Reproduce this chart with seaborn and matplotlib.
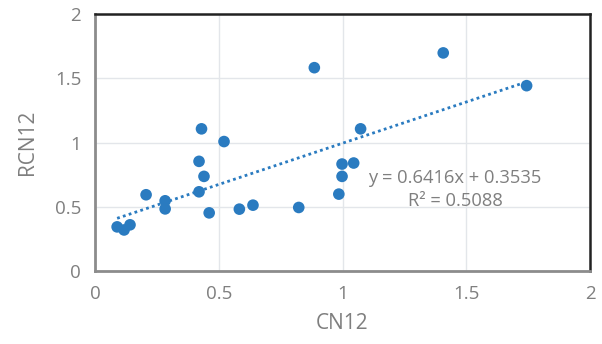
import numpy as np
import pandas as pd
import matplotlib
matplotlib.use("Agg")
import matplotlib.pyplot as plt
import seaborn as sns

# values
cn12 = [0.089, 0.117, 0.141, 0.206, 0.283, 0.283, 0.420, 0.430, 0.440, 0.420,
        0.461, 0.521, 0.583, 0.638, 0.823, 0.886, 0.998, 0.998, 0.985, 1.045,
        1.073, 1.407, 1.744]
rcn12 = [0.344, 0.320, 0.360, 0.594, 0.547, 0.484, 0.854, 1.107, 0.737, 0.617,
         0.453, 1.008, 0.482, 0.513, 0.495, 1.583, 0.833, 0.737, 0.599, 0.841,
         1.107, 1.698, 1.443]
slope, intercept = 0.6416, 0.3535
r2 = 0.5088
ticks = [0, 0.5, 1, 1.5, 2]

df = pd.DataFrame({"CN12": cn12, "RCN12": rcn12})

sns.set_style("white")
plt.rcParams["font.family"] = ["Open Sans", "DejaVu Sans"]

blue = "#2A7BC0"
grey_txt = "#7f7f7f"

fig = plt.figure(figsize=(6.02, 3.44), dpi=100)
ax = fig.add_axes([0.158, 0.212, 0.822, 0.747])

ax.grid(True, color="#e3e6ea", linewidth=1)
ax.set_axisbelow(True)

sns.scatterplot(data=df, x="CN12", y="RCN12", ax=ax, color=blue, s=70,
                edgecolor="none", zorder=3)

# linear trend line (dotted) over data range
xs = np.array([min(cn12), max(cn12)])
ax.plot(xs, slope * xs + intercept, linestyle=(0, (1, 1.2)), color=blue,
        linewidth=2, zorder=2)

ax.text(1.455, 0.727, f"y = {slope}x + {intercept}", ha="center", va="center",
        fontsize=13.2, color=grey_txt)
ax.text(1.455, 0.547, f"R² = {r2}", ha="center", va="center",
        fontsize=13.2, color=grey_txt)

ax.set_xlim(0, 2)
ax.set_ylim(0, 2)
ax.set_xticks(ticks)
ax.set_yticks(ticks)
ax.set_xticklabels([f"{t:g}" for t in ticks])
ax.set_yticklabels([f"{t:g}" for t in ticks])
ax.tick_params(axis="both", labelsize=13.5, colors=grey_txt, length=0, pad=10)
ax.set_xlabel("CN12", fontsize=15, color=grey_txt, labelpad=7)
ax.set_ylabel("RCN12", fontsize=15, color=grey_txt, labelpad=12)

for side in ["top", "right"]:
    ax.spines[side].set_color("#222222")
    ax.spines[side].set_linewidth(1.8)
for side in ["left", "bottom"]:
    ax.spines[side].set_color("#8c8c8c")
    ax.spines[side].set_linewidth(2)

fig.savefig("out.png", dpi=100, facecolor="white")
